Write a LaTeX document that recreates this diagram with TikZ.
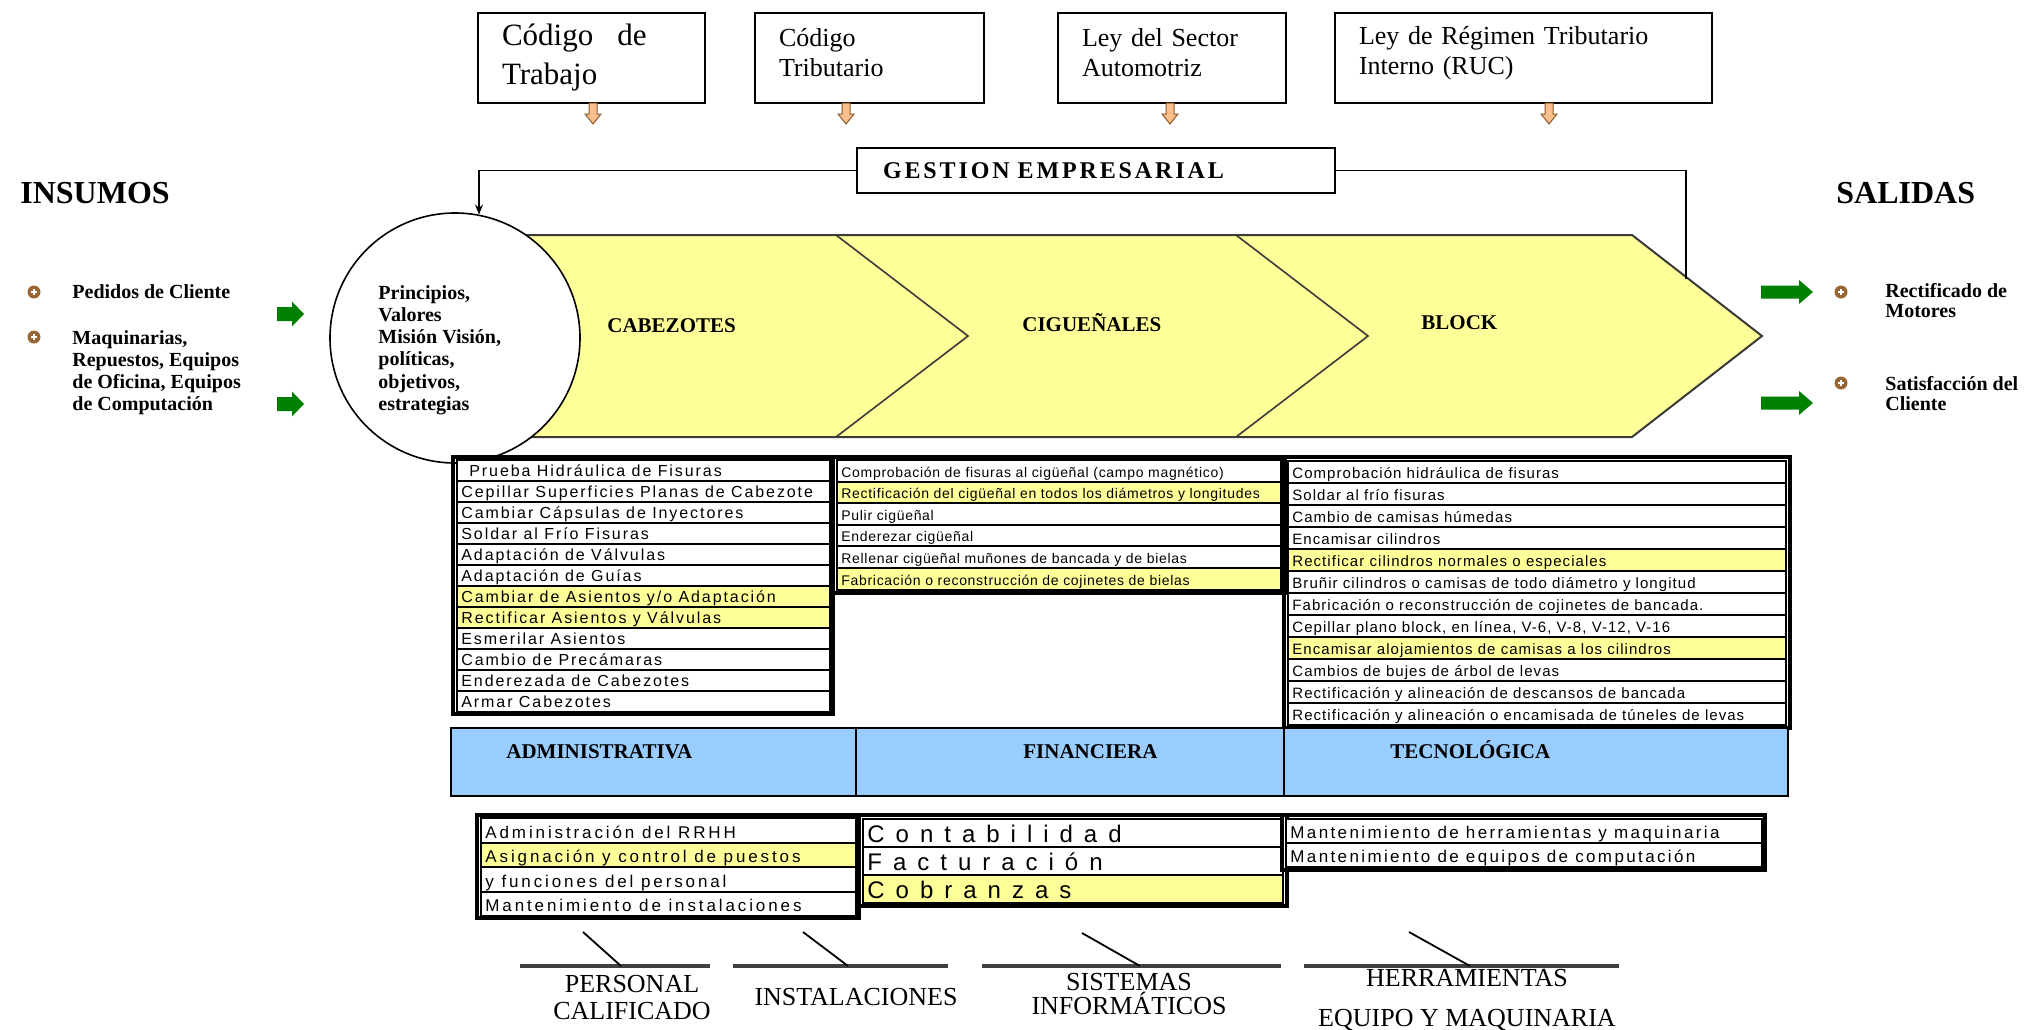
\documentclass[tikz,border=0pt]{standalone}
\usepackage{fontspec}
\setmainfont{Liberation Serif}
\setsansfont{Liberation Sans}
\usetikzlibrary{arrows.meta}

\definecolor{bandyellow}{HTML}{FFFF99}
\definecolor{rowyellow}{HTML}{FFFF99}
\definecolor{areablue}{HTML}{99CCFF}
\definecolor{arrowgreen}{HTML}{008000}
\definecolor{laworange}{HTML}{F9C08E}
\definecolor{lawedge}{HTML}{8C5A2A}
\definecolor{bulletbrown}{HTML}{996633}
\definecolor{bandedge}{HTML}{3A3A3A}
\definecolor{spine}{HTML}{404040}

% fonts
\newcommand{\lawA}{\fontsize{15.5}{19.5}\selectfont}
\newcommand{\lawB}{\fontsize{13}{15}\selectfont}
\newcommand{\gestfont}{\bfseries\fontsize{12}{14}\selectfont\addfontfeature{LetterSpace=12}}
\newcommand{\cellL}{\sffamily\fontsize{8}{9}\selectfont\addfontfeature{LetterSpace=12}}
\newcommand{\cellM}{\sffamily\fontsize{7}{8}\selectfont\addfontfeature{LetterSpace=5}}
\newcommand{\cellR}{\sffamily\fontsize{7.5}{8.5}\selectfont\addfontfeature{LetterSpace=7}}
\newcommand{\cellA}{\sffamily\fontsize{8.5}{9}\selectfont\addfontfeature{LetterSpace=17}}
\newcommand{\cellF}{\sffamily\fontsize{12}{13}\selectfont\addfontfeature{LetterSpace=18}}
\newcommand{\cellT}{\sffamily\fontsize{8.5}{9}\selectfont\addfontfeature{LetterSpace=14}}

% one table row: name, x1, x2, y1, y2, fill, text
\newcommand{\mkrow}[7]{%
  \draw[rowframe, fill=#6] (#2,#4) rectangle (#3,#5);
  \node[rowtext] (#1) at (#2+4,#5-5) {#7};}

\begin{document}
\begin{tikzpicture}[x=0.5pt, y=-0.5pt,
  lawbox/.style={draw, line width=1pt, anchor=north west, align=left,
    inner xsep=12pt, inner ysep=0pt, minimum height=45pt},
  smallbold/.style={font=\bfseries\fontsize{10}{11.1}\selectfont, inner sep=0pt},
  outtext/.style={font=\bfseries\fontsize{10}{10}\selectfont, inner sep=0pt, anchor=north west, align=left},
  headlabel/.style={font=\bfseries\fontsize{16}{18}\selectfont, inner sep=0pt, anchor=west},
  bandlabel/.style={font=\bfseries\fontsize{10.5}{12}\selectfont, inner sep=0pt, anchor=west},
  rowframe/.style={draw=black, line width=0.9pt},
  rowtext/.style={anchor=base west, inner sep=0pt},
  tableframe/.style={draw=black, line width=2pt},
  areacell/.style={fill=areablue, draw=black, line width=1pt},
  fbline/.style={draw=black, line width=0.7pt},
  spineline/.style={draw=spine, line width=2.2pt},
  ribline/.style={draw=black, line width=0.9pt},
  catlabel/.style={align=center, inner sep=0pt},
  lawarrow/.pic={\path[fill=laworange, draw=lawedge, line width=0.5pt]
    (-4,0) -- (4,0) -- (4,11) -- (8,11) -- (0,21) -- (-8,11) -- (-4,11) -- cycle;},
  inarrow/.pic={\fill[arrowgreen] (0,-7) -- (15,-7) -- (15,-12.5) -- (27,0)
    -- (15,12.5) -- (15,7) -- (0,7) -- cycle;},
  outarrow/.pic={\fill[arrowgreen] (0,-6.5) -- (38,-6.5) -- (38,-12) -- (52,0)
    -- (38,12) -- (38,6.5) -- (0,6.5) -- cycle;},
  bullet/.pic={\fill[bulletbrown] (0,0) circle (6.5);
    \draw[white, line width=0.7pt] (-3,0) -- (3,0) (0,-3) -- (0,3);}
]
\useasboundingbox (0,0) rectangle (2044,1029);

% ---- legal framework boxes ----
\node[lawbox, font=\lawA, text width=89.5pt] (ct) at (477,12) {Código\hspace{12pt}de\\Trabajo};
\node[lawbox, font=\lawB, text width=90.5pt, text depth=21pt] (ctr) at (754,12) {Código\\Tributario};
\node[lawbox, font=\lawB, text width=90pt, text depth=21pt] (ls) at (1057,12) {Ley del Sector\\Automotriz};
\node[lawbox, font=\lawB, text width=164.5pt, text depth=23pt] (lr) at (1334,12) {Ley de Régimen Tributario\\Interno (RUC)};
\pic at (593,103) {lawarrow};
\pic at (846,103) {lawarrow};
\pic at (1170,103) {lawarrow};
\pic at (1549,103) {lawarrow};

% ---- headings ----
\node[headlabel] (insumos) at (20,193) {INSUMOS};
\node[headlabel] (salidas) at (1836,193) {SALIDAS};

% ---- process band ----
\filldraw[fill=bandyellow, draw=bandedge, line width=1pt]
  (455,235) -- (1632,235) -- (1762,336) -- (1632,437) -- (455,437) -- cycle;
\draw[bandedge, line width=0.8pt] (836,235) -- (968,336) -- (836,437);
\draw[bandedge, line width=0.8pt] (1236,235) -- (1368,336) -- (1236,437);
\node[bandlabel] (cab) at (607,326) {CABEZOTES};
\node[bandlabel] (cig) at (1022,323) {CIGUEÑALES};
\node[bandlabel] (blk) at (1421,323) {BLOCK};

\node[circle, draw, fill=white, line width=0.8pt, minimum size=125pt, inner sep=0pt] (mission) at (455,338) {};
\node[smallbold, anchor=north west, align=left] (missiontext) at (378,285)
  {Principios,\\Valores\\Misión Visión,\\políticas,\\objetivos,\\estrategias};

% ---- management feedback ----
\node[draw, line width=1pt, anchor=north west, minimum height=22.5pt, text width=213pt,
  inner xsep=13pt, inner ysep=0pt, align=left, font=\gestfont] (gestion) at (856,147) {GESTION EMPRESARIAL};
\coordinate (fbend) at (1686,279);
\draw[fbline, -{Stealth[length=5pt,width=4pt]}] (gestion.west) -| (mission.79);
\draw[fbline] (gestion.east) -| (fbend);

% ---- inputs ----
\pic at (34,292) {bullet};
\pic at (34,337) {bullet};
\node[smallbold, anchor=west] (in1) at (72,292) {Pedidos de Cliente};
\node[smallbold, anchor=north west, align=left] (in2) at (72,330)
  {Maquinarias,\\Repuestos, Equipos\\de Oficina, Equipos\\de Computación};
\pic at (277,314) {inarrow};
\pic at (277,404) {inarrow};

% ---- outputs ----
\pic at (1761,292) {outarrow};
\pic at (1761,403) {outarrow};
\pic at (1841,292) {bullet};
\pic at (1841,383) {bullet};
\node[outtext] (out1) at (1885,283) {Rectificado de\\Motores};
\node[outtext] (out2) at (1885,376) {Satisfacción del\\Cliente};

% ---- cylinder head tasks ----
\begin{scope}[rowtext/.append style={font=\cellL}]
\mkrow{h1}{457}{830}{460}{481}{white}{\hspace{4pt}Prueba Hidráulica de Fisuras}
\mkrow{h2}{457}{830}{481}{502}{white}{Cepillar Superficies Planas de Cabezote}
\mkrow{h3}{457}{830}{502}{523}{white}{Cambiar Cápsulas de Inyectores}
\mkrow{h4}{457}{830}{523}{544}{white}{Soldar al Frío Fisuras}
\mkrow{h5}{457}{830}{544}{565}{white}{Adaptación de Válvulas}
\mkrow{h6}{457}{830}{565}{586}{white}{Adaptación de Guías}
\mkrow{h7}{457}{830}{586}{607}{rowyellow}{Cambiar de Asientos y/o Adaptación}
\mkrow{h8}{457}{830}{607}{628}{rowyellow}{Rectificar Asientos y Válvulas}
\mkrow{h9}{457}{830}{628}{649}{white}{Esmerilar Asientos}
\mkrow{h10}{457}{830}{649}{670}{white}{Cambio de Precámaras}
\mkrow{h11}{457}{830}{670}{691}{white}{Enderezada de Cabezotes}
\mkrow{h12}{457}{830}{691}{712}{white}{Armar Cabezotes}
\end{scope}
\draw[tableframe] (453,457) rectangle (833,714);

% ---- crankshaft tasks ----
\begin{scope}[rowtext/.append style={font=\cellM}]
\mkrow{k1}{837}{1281}{460}{482}{white}{Comprobación de fisuras al cigüeñal (campo magnético)}
\mkrow{k2}{837}{1281}{482}{503}{rowyellow}{Rectificación del cigüeñal en todos los diámetros y longitudes}
\mkrow{k3}{837}{1281}{503}{525}{white}{Pulir cigüeñal}
\mkrow{k4}{837}{1281}{525}{546}{white}{Enderezar cigüeñal}
\mkrow{k5}{837}{1281}{546}{568}{white}{Rellenar cigüeñal muñones de bancada y de bielas}
\mkrow{k6}{837}{1281}{568}{590}{rowyellow}{Fabricación o reconstrucción de cojinetes de bielas}
\end{scope}
\draw[tableframe] (833,457) rectangle (1285,593);

% ---- engine block tasks ----
\begin{scope}[rowtext/.append style={font=\cellR}]
\mkrow{b1}{1288}{1786}{461}{483}{white}{Comprobación hidráulica de fisuras}
\mkrow{b2}{1288}{1786}{483}{505}{white}{Soldar al frío fisuras}
\mkrow{b3}{1288}{1786}{505}{527}{white}{Cambio de camisas húmedas}
\mkrow{b4}{1288}{1786}{527}{549}{white}{Encamisar cilindros}
\mkrow{b5}{1288}{1786}{549}{571}{rowyellow}{Rectificar cilindros normales o especiales}
\mkrow{b6}{1288}{1786}{571}{593}{white}{Bruñir cilindros o camisas de todo diámetro y longitud}
\mkrow{b7}{1288}{1786}{593}{615}{white}{Fabricación o reconstrucción de cojinetes de bancada.}
\mkrow{b8}{1288}{1786}{615}{637}{white}{Cepillar plano block, en línea, V-6, V-8, V-12, V-16}
\mkrow{b9}{1288}{1786}{637}{659}{rowyellow}{Encamisar alojamientos de camisas a los cilindros}
\mkrow{b10}{1288}{1786}{659}{681}{white}{Cambios de bujes de árbol de levas}
\mkrow{b11}{1288}{1786}{681}{703}{white}{Rectificación y alineación de descansos de bancada}
\mkrow{b12}{1288}{1786}{703}{725}{white}{Rectificación y alineación o encamisada de túneles de levas}
\end{scope}
\draw[tableframe] (1284,457) rectangle (1790,728);

% ---- management areas ----
\filldraw[areacell] (451,728) rectangle (856,796);
\filldraw[areacell] (856,728) rectangle (1284,796);
\filldraw[areacell] (1284,728) rectangle (1788,796);
\node[bandlabel] (adm) at (506,752) {ADMINISTRATIVA};
\node[bandlabel] (fin) at (1023,752) {FINANCIERA};
\node[bandlabel] (tec) at (1390,750) {TECNOLÓGICA};

\begin{scope}[rowtext/.append style={font=\cellA}]
\mkrow{a1}{481}{856}{818}{843}{white}{Administración del RRHH}
\mkrow{a2}{481}{856}{843}{867}{rowyellow}{Asignación y control de puestos}
\mkrow{a3}{481}{856}{867}{892}{white}{y funciones del personal}
\mkrow{a4}{481}{856}{892}{916}{white}{Mantenimiento de instalaciones}
\end{scope}
\draw[tableframe] (477,815) rectangle (859,918);

\begin{scope}[rowtext/.append style={font=\cellF}]
\mkrow{f1}{863}{1283}{819}{847}{white}{C o n t a b i l i d a d}
\mkrow{f2}{863}{1283}{847}{875}{white}{F a c t u r a c i ó n}
\mkrow{f3}{863}{1283}{875}{903}{rowyellow}{C o b r a n z a s}
\end{scope}
\draw[tableframe] (859,815) rectangle (1287,906);

\begin{scope}[rowtext/.append style={font=\cellT}]
\mkrow{t1}{1286}{1762}{819}{843}{white}{Mantenimiento de herramientas y maquinaria}
\mkrow{t2}{1286}{1762}{843}{867}{white}{Mantenimiento de equipos de computación}
\end{scope}
\draw[tableframe] (1282,815) rectangle (1765,870);

% ---- resources ----
\draw[spineline] (520,966) -- (710,966);
\draw[ribline] (583,932) -- (621,966);
\draw[spineline] (733,966) -- (948,966);
\draw[ribline] (803,932) -- (848,966);
\draw[spineline] (982,966) -- (1281,966);
\draw[ribline] (1082,933) -- (1140,966);
\draw[spineline] (1304,966) -- (1619,966);
\draw[ribline] (1409,932) -- (1470,966);

\node[catlabel, font=\fontsize{13}{13.5}\selectfont] (personal) at (632,998) {PERSONAL\\CALIFICADO};
\node[catlabel, font=\fontsize{13}{13.5}\selectfont] (instal) at (856,997) {INSTALACIONES};
\node[catlabel, font=\fontsize{13}{12.5}\selectfont] (sistemas) at (1129,994) {SISTEMAS\\INFORMÁTICOS};
\node[catlabel, font=\fontsize{13}{20}\selectfont] (herr) at (1467,1000) {HERRAMIENTAS\\EQUIPO Y MAQUINARIA};
\end{tikzpicture}
\end{document}
